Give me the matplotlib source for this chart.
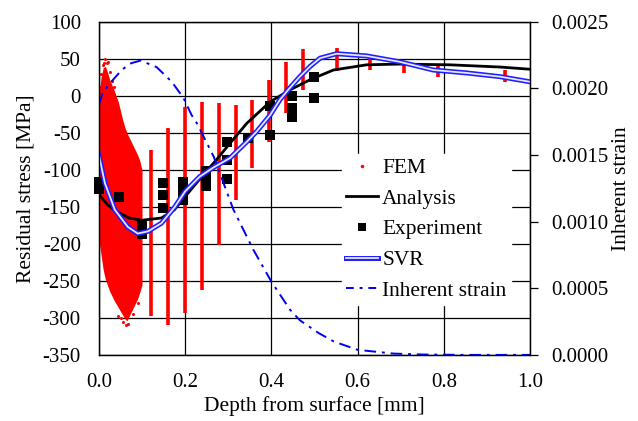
import numpy as np
import matplotlib
matplotlib.use("Agg")
import matplotlib.pyplot as plt
from matplotlib.lines import Line2D

plt.rcParams['font.family'] = ['Liberation Serif', 'DejaVu Serif']
plt.rcParams['font.size'] = 15
plt.rcParams['axes.unicode_minus'] = False

## ------------------
## Data
## ------------------
# FEM cloud near the surface: column depth, top and bottom of dense region [MPa]
cloud_depth = [0.000, 0.005, 0.010, 0.015, 0.020, 0.025, 0.030, 0.035, 0.040, 0.045, 0.050,
               0.055, 0.060, 0.065, 0.070, 0.075, 0.080, 0.085, 0.090, 0.095, 0.100]
cloud_top = [0, 25, 38, 40, 32, 22, 15, 8, 0, -8, -20,
             -32, -42, -50, -56, -62, -68, -74, -80, -88, -100]
cloud_bot = [-195, -215, -235, -248, -256, -264, -270, -276, -281, -286, -291,
             -296, -301, -304, -298, -292, -286, -280, -274, -265, -255]
# a few scattered FEM outliers
fem_out_d = [0.003, 0.006, 0.009, 0.012, 0.015, 0.018, 0.020, 0.026, 0.030, 0.036,
             0.045, 0.052, 0.055, 0.062, 0.068, 0.080, 0.090]
fem_out_s = [12, 30, 42, 45, 50, 44, 46, 32, 20, 12,
             -298, -300, -305, -310, -308, -295, -280]
# FEM streaks at deeper positions
fem_depth = [0.121, 0.160, 0.200, 0.238, 0.278, 0.317, 0.356, 0.395, 0.434, 0.474,
             0.551, 0.629, 0.708, 0.786, 0.942]
fem_top = [-73, -43, -15, -8, -10, -12, -6, 22, 46, 64, 65, 55, 46, 40, 35]
fem_bot = [-297, -310, -293, -262, -201, -141, -97, -62, -23, 8, 34, 35, 31, 26, 19]

# Experiment
exp_depth = [0.0, 0.0, 0.047, 0.10, 0.10, 0.148, 0.148, 0.148, 0.196, 0.196, 0.196,
             0.248, 0.248, 0.248, 0.296, 0.296, 0.296, 0.346, 0.397, 0.397,
             0.447, 0.447, 0.447, 0.498, 0.498]
exp_stress = [-117, -126, -136, -174, -186, -118, -134, -152, -116, -129, -141,
              -102, -112, -122, -62, -86, -112, -57, -14, -53,
              0, -17, -29, 25, -3]

# Analysis
ana_depth = [0.0, 0.02, 0.04, 0.07, 0.10, 0.145, 0.175, 0.20, 0.246, 0.273, 0.304, 0.343,
             0.397, 0.443, 0.49, 0.544, 0.621, 0.698, 0.814, 0.93, 1.0]
ana_stress = [-133, -147, -156, -165, -168, -165, -154, -136, -104, -86, -64, -37,
              -8, 8, 22, 35, 42, 43, 42, 39, 36]

# SVR
svr_depth = [0.0, 0.014, 0.037, 0.067, 0.09, 0.114, 0.145, 0.176, 0.20, 0.234, 0.265,
             0.304, 0.343, 0.366, 0.397, 0.42, 0.443, 0.466, 0.49, 0.513, 0.551,
             0.621, 0.698, 0.775, 0.853, 0.93, 1.0]
svr_stress = [-80, -118, -154, -177, -186, -183, -172, -150, -129, -109, -97,
              -84, -62, -48, -26, -5, 11, 26, 40, 51, 57,
              54, 46, 35, 31, 26, 19]

# Inherent strain (right axis)
is_depth = [0.0, 0.009, 0.026, 0.053, 0.075, 0.097, 0.134, 0.169, 0.196, 0.215, 0.227,
            0.266, 0.312, 0.358, 0.40, 0.443, 0.466, 0.509, 0.545, 0.60, 0.683, 0.75,
            0.85, 1.0]
is_strain = [0.00188, 0.00197, 0.00204, 0.00214, 0.00219, 0.00221, 0.00216, 0.00205,
             0.00193, 0.00180, 0.00174, 0.00149, 0.00109, 0.00079, 0.00055, 0.00034,
             0.00026, 0.000165, 0.00010, 0.000038, 0.00001, 0.000003, 0.0, 0.0]

## ------------------
## Plot
## ------------------
fig = plt.figure(figsize=(6.38, 4.21), dpi=100)
ax = fig.add_axes([0.155, 0.157, 0.676, 0.791])
ax2 = ax.twinx()

red = '#ff0000'
ax.fill_between(cloud_depth, cloud_bot, cloud_top, color=red, lw=0, zorder=2)
ax.plot(fem_out_d, fem_out_s, 'o', color=red, ms=2.2, mew=0, zorder=2)
ax.vlines(fem_depth, fem_bot, fem_top, colors=red, lw=2.6, zorder=2)

ax.plot(exp_depth, exp_stress, 's', color='black', ms=7, mew=0, zorder=3, clip_on=False)
ax.plot(ana_depth, ana_stress, '-', color='black', lw=2.0, zorder=4)
ax.plot(svr_depth, svr_stress, '-', color='#1f1fff', lw=3.6, zorder=5)
ax.plot(svr_depth, svr_stress, '-', color='#e6e6ff', lw=1.3, zorder=6)

ax2.plot(is_depth, is_strain, color='#0000ee', lw=1.4, dashes=[6, 3, 1.5, 3])

ax.set_xlim(0, 1.0)
ax.set_ylim(-350, 100)
ax2.set_ylim(0, 0.0025)
ax.set_xticks(np.arange(0, 1.01, 0.2))
ax.set_xticklabels([f"{v:.1f}" for v in np.arange(0, 1.01, 0.2)])
ax.set_yticks(np.arange(-350, 101, 50))
ax2.set_yticks(np.arange(0, 0.00251, 0.0005))
ax2.set_yticklabels([f"{v:.4f}" for v in np.arange(0, 0.00251, 0.0005)])

ax.grid(True, color='black', lw=0.9)
ax.set_axisbelow(True)
ax.tick_params(axis='both', length=0, pad=13)
ax2.tick_params(axis='y', length=6, direction='out', width=0.9, pad=9)
for a in (ax, ax2):
    for s in a.spines.values():
        s.set_linewidth(0.9)
        s.set_color('black')

ax.set_xlabel("Depth from surface [mm]", fontsize=15.5, labelpad=3)
ax.set_ylabel("Residual stress [MPa]", fontsize=15.5, labelpad=5)
ax2.set_ylabel("Inherent strain", fontsize=15.5, labelpad=3)

## Legend
handles = [
    Line2D([], [], ls='none', marker='o', ms=2.5, mew=0, color=red),
    Line2D([], [], color='black', lw=2.0),
    Line2D([], [], ls='none', marker='s', ms=5.5, mew=0, color='black'),
    (Line2D([], [], color='#1f1fff', lw=3.6), Line2D([], [], color='#e6e6ff', lw=1.3)),
    Line2D([], [], color='#0000ee', lw=1.4, dashes=[4, 3, 1.5, 3]),
]
labels = ["FEM", "Analysis", "Experiment", "SVR", "Inherent strain"]
leg = ax2.legend(handles, labels, loc='upper left', bbox_to_anchor=(0.564, 0.604),
                 frameon=True, fancybox=False, framealpha=1, edgecolor='white',
                 fontsize=15.4, handlelength=1.5, handletextpad=0.17, labelspacing=0.5,
                 borderpad=0.2, borderaxespad=0)

fig.savefig("out.png", dpi=100)
